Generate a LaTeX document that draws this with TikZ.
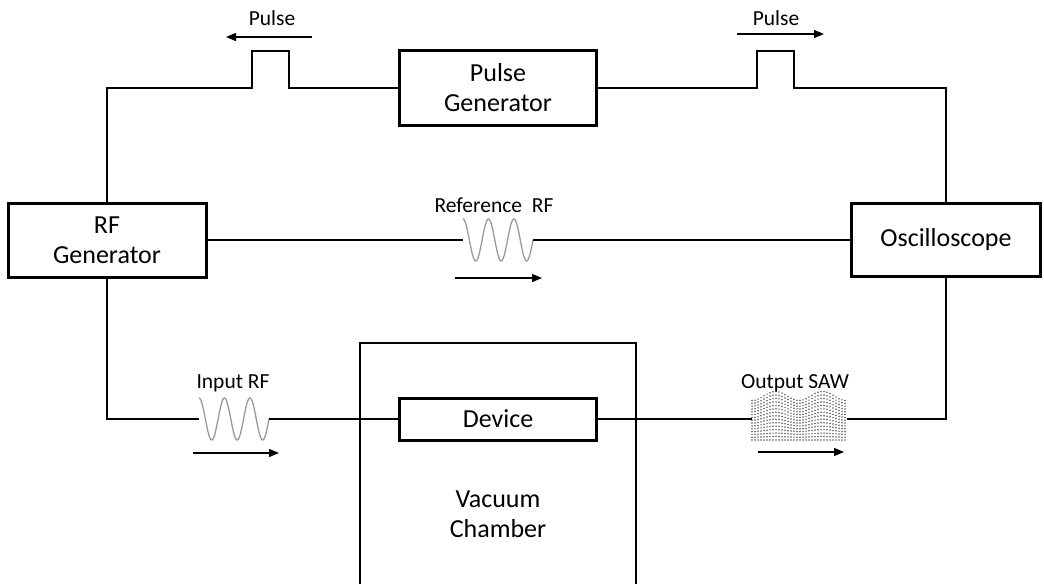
\documentclass[tikz,border=0pt]{standalone}
\usepackage{fontspec}
\setmainfont{Carlito}
\usetikzlibrary{arrows.meta}

\newcommand\boxfont{\fontsize{26}{30}\selectfont}
\newcommand\tagfont{\fontsize{21.5}{25}\selectfont}

\tikzset{
  box/.style={draw, line width=3pt, inner sep=0pt, align=center, font=\boxfont},
  wire/.style={line width=2pt},
  flow/.style={line width=1.2pt, -{Triangle[length=10pt,width=8pt]}},
  tag/.style={font=\tagfont, inner sep=0pt},
  % a few periods of the RF signal, 70 wide
  pics/rfwave/.style={code={
    \draw[gray!80, line width=1.3pt]
      plot[domain=0:70, samples=120, smooth] (\x,{-21*cos(14.1429*\x)});
  }},
  % surface acoustic wave as a deformed grid of dots
  pics/sawmesh/.style={code={
    \foreach \i in {0,...,31}{
      \pgfmathsetmacro\px{3*\i}
      \pgfmathsetmacro\ytop{-23+4.5*cos(7.66*\px)}
      \foreach \j in {0,...,14}{
        \fill[black!65] (\px,{\ytop+\j*(21-\ytop)/14}) circle (0.85);
      }
    }
  }}
}

\begin{document}
\begin{tikzpicture}[x=1pt,y=-1pt]
  \useasboundingbox (0,0) rectangle (1044,584);

  \node[box, minimum width=197pt, minimum height=75pt] (pulsegen) at (498,88) {Pulse\\Generator};
  \node[box, minimum width=198pt, minimum height=74pt] (rfgen) at (107,240) {RF\\Generator};
  \node[box, minimum width=189pt, minimum height=73pt] (osc) at (946,240) {Oscilloscope};
  \node[box, minimum width=197pt, minimum height=42pt] (device) at (498,419) {Device};

  % vacuum chamber, open at the bottom
  \draw[line width=2pt] (360,584) |- (636,343) -- (636,584);
  \node[font=\boxfont, align=center] (chamber) at (498,514) {Vacuum\\Chamber};

  \coordinate (refin) at (463,240);
  \coordinate (refout) at (533,240);
  \coordinate (inrf) at (199,419);
  \coordinate (inrfout) at (269,419);
  \coordinate (sawin) at (752,419);
  \coordinate (sawout) at (847,419);

  % trigger lines with the pulses
  \draw[wire] (rfgen.north) |- (252,88) -- (252,51) -- (289,51) -- (289,88) -- (pulsegen.west);
  \draw[wire] (pulsegen.east) -- (757,88) -- (757,51) -- (794,51) -- (794,88) -| (osc.north);

  % reference RF
  \draw[wire, line width=1.6pt] (rfgen.east) -- (refin);
  \pic at (refin) {rfwave};
  \draw[wire, line width=1.6pt] (refout) -- (osc.west);

  % signal path through the device
  \draw[wire] (rfgen.south) |- (inrf);
  \pic at (inrf) {rfwave};
  \draw[wire] (inrfout) -- (device.west);
  \draw[wire] (device.east) -- (sawin);
  \pic at (sawin) {sawmesh};
  \draw[wire] (sawout) -| (osc.south);

  % labels and directions
  \node[tag] (pulsel) at (272,18) {Pulse};
  \draw[flow] (312,37) -- (226,37);
  \node[tag] (pulser) at (776,18) {Pulse};
  \draw[flow] (737,34) -- (824,34);
  \node[tag] (reflbl) at (494,205) {Reference~ RF};
  \draw[flow] (455,278) -- (542,278);
  \node[tag] (inlbl) at (233,383) {Input RF};
  \draw[flow] (193,453) -- (279,453);
  \node[tag] (outlbl) at (795,383) {Output SAW};
  \draw[flow] (758,452) -- (844,452);
\end{tikzpicture}
\end{document}
